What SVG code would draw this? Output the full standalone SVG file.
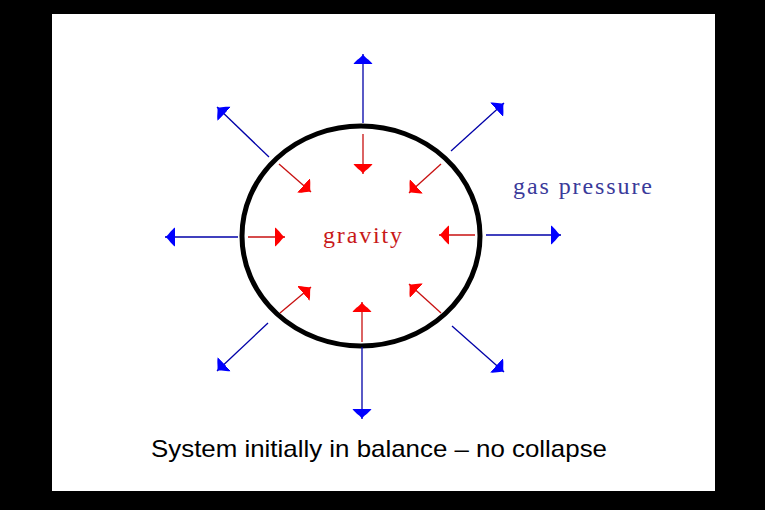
<svg xmlns="http://www.w3.org/2000/svg" width="765" height="510" viewBox="0 0 765 510">
  <style>
    .blue { stroke: #0000a8; stroke-width: 1.3; fill: none; marker-end: url(#headBlue); }
    .red { stroke: #c81010; stroke-width: 1.3; fill: none; marker-end: url(#headRed); }
    .serif { font-family: "Liberation Serif", "DejaVu Serif", serif; font-size: 24px; }
    .sans { font-family: "Liberation Sans", Arial, sans-serif; font-size: 24px; fill: #000; }
  </style>
  <defs>
    <marker id="headBlue" markerUnits="userSpaceOnUse" markerWidth="12" markerHeight="22" viewBox="0 -11 12 22" refX="10" refY="0" orient="auto">
      <path d="M10,0 C7,-1 4,-7 0,-9.5 L0,9.5 C4,7 7,1 10,0 Z" fill="#0000ff"/>
    </marker>
    <marker id="headRed" markerUnits="userSpaceOnUse" markerWidth="12" markerHeight="22" viewBox="0 -11 12 22" refX="10" refY="0" orient="auto">
      <path d="M10,0 C7,-1 4,-7 0,-9.5 L0,9.5 C4,7 7,1 10,0 Z" fill="#ff0000"/>
    </marker>
  </defs>
  <rect x="0" y="0" width="765" height="510" fill="#000"/>
  <rect x="52" y="14" width="663" height="477" fill="#fff"/>

  <g id="star">
    <ellipse cx="361" cy="236" rx="119" ry="110" fill="none" stroke="#000" stroke-width="5"/>
  </g>

  <g id="connectors">
    <g id="pressure-arrows">
      <line class="blue" x1="363" y1="123" x2="363" y2="54"/>
      <line class="blue" x1="269" y1="157" x2="217" y2="107"/>
      <line class="blue" x1="451" y1="151" x2="504" y2="103"/>
      <line class="blue" x1="238" y1="237" x2="165" y2="237"/>
      <line class="blue" x1="486" y1="235" x2="561" y2="235"/>
      <line class="blue" x1="268" y1="323" x2="217" y2="371"/>
      <line class="blue" x1="362" y1="347" x2="362" y2="419"/>
      <line class="blue" x1="452" y1="326" x2="504" y2="372"/>
    </g>
    <g id="gravity-arrows">
      <line class="red" x1="363" y1="134" x2="363" y2="174"/>
      <line class="red" x1="279" y1="164" x2="311" y2="192"/>
      <line class="red" x1="441" y1="164" x2="409" y2="193"/>
      <line class="red" x1="248" y1="237" x2="285" y2="237"/>
      <line class="red" x1="475" y1="235" x2="439" y2="235"/>
      <line class="red" x1="280" y1="313" x2="311" y2="287"/>
      <line class="red" x1="362" y1="342" x2="362" y2="302"/>
      <line class="red" x1="441" y1="313" x2="409" y2="284"/>
    </g>
  </g>

  <g id="label-gravity">
    <text class="serif" x="323" y="243" fill="#c81818" textLength="79" lengthAdjust="spacing">gravity</text>
  </g>
  <g id="label-gas-pressure">
    <text class="serif" x="513" y="194" fill="#3a3a9a" textLength="139" lengthAdjust="spacing">gas pressure</text>
  </g>
  <g id="caption">
    <text class="sans" x="151" y="457" textLength="456" lengthAdjust="spacingAndGlyphs">System initially in balance – no collapse</text>
  </g>
</svg>
